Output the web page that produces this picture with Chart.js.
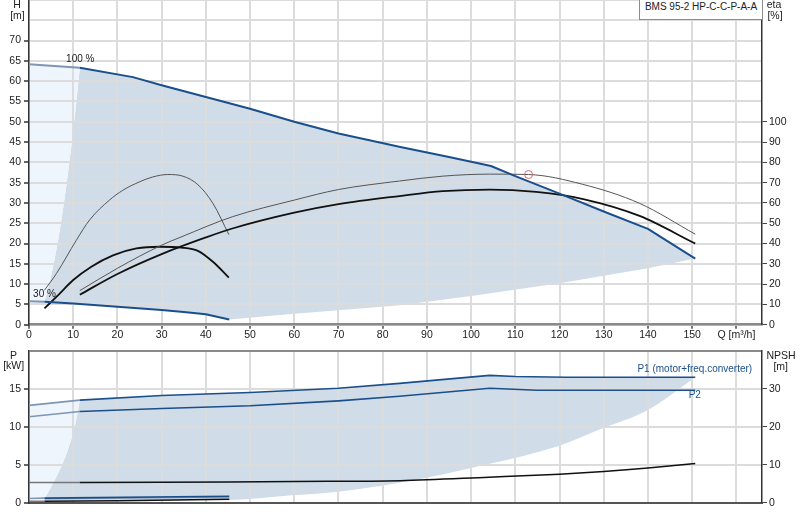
<!DOCTYPE html>
<html><head><meta charset="utf-8">
<script src="https://cdn.jsdelivr.net/npm/chart.js@4.4.1/dist/chart.umd.min.js"></script>
<style>
html,body{margin:0;padding:0;background:#fff;}
#wrap{position:relative;width:800px;height:520px;overflow:hidden;font-family:"Liberation Sans",Arial,sans-serif;font-size:10.5px;color:#222;}
canvas{position:absolute;left:0;}
.lbl{position:absolute;white-space:nowrap;line-height:12px;transform:translateX(-50%);}
#title{position:absolute;left:639px;top:-1px;width:122px;height:19px;border:1px solid #8c8c8c;background:#fff;text-align:center;line-height:14px;font-size:10px;white-space:nowrap;color:#222;}
</style></head><body>
<div id="wrap">
<canvas id="top" width="800" height="345" style="top:0"></canvas>
<canvas id="bot" width="800" height="175" style="top:345px"></canvas>
<div id="title">BMS 95-2 HP-C-C-P-A-A</div>
<div class="lbl" style="left:17px;top:-2px">H</div>
<div class="lbl" style="left:17.5px;top:9px">[m]</div>
<div class="lbl" style="left:774px;top:-2px">eta</div>
<div class="lbl" style="left:775px;top:9px">[%]</div>
<div class="lbl" style="left:13.5px;top:348.5px">P</div>
<div class="lbl" style="left:13.7px;top:358.5px">[kW]</div>
<div class="lbl" style="left:781px;top:349px">NPSH</div>
<div class="lbl" style="left:780.7px;top:359.5px">[m]</div>
</div>
<script>
// ---------- top chart data (Q in m3/h) ----------
const q100 = [0, 11.5, 23.5, 30, 40, 50, 60, 70, 84, 95, 104.5, 110, 120, 130, 140, 150.7];
const h100 = [64.2, 63.3, 61, 59, 56.1, 53.2, 50, 47.1, 43.8, 41.3, 39.1, 36.6, 32.3, 27.9, 23.6, 16.3];
const q30 = [0, 3.5, 10, 20, 30, 35, 40, 45.3];
const h30 = [5.8, 5.65, 5.2, 4.45, 3.6, 3.15, 2.55, 1.3];
const qMinFlow = [3.5, 4.5, 5.5, 6.5, 7.5, 8.5, 9.5, 10.5, 11.5];
const hMinFlow = [5.65, 9.6, 14.5, 20.2, 27, 34.6, 43.2, 52.8, 63.3];
const qMinHead = [45.3, 60, 84, 100, 120, 140, 150.7];
const hMinHead = [1.3, 2.7, 4.8, 7.1, 10.2, 13.9, 16.3];
const qEtaP = [11.5, 20, 30, 34.6, 46, 60, 70, 83.8, 93.6, 104.2, 113, 125.2, 138.1, 150.7];
const etaP = [16.8, 27.8, 39.2, 43.4, 53.2, 61.4, 66.6, 70.8, 73.2, 74.2, 74.0, 69.2, 59.8, 44.6];
const qEtaT = [11.5, 20, 30, 40, 46, 60, 70, 83.8, 93.6, 104.2, 114.7, 125.6, 138.1, 150.7];
const etaT = [14.8, 25, 34.8, 43, 47.4, 55.2, 59.4, 63.4, 65.8, 66.6, 65.4, 61.8, 53.6, 40];
const qEtaP30 = [3.5, 6.2, 10.7, 13.7, 18.2, 21.2, 25, 28, 31.4, 34.8, 38.2, 41.6, 45.2];
const etaP30 = [17, 25.2, 41.6, 51.6, 61.4, 66.2, 70.4, 72.8, 74, 73.2, 69, 59.8, 44.4];
const qEtaT30 = [3.5, 6.6, 10, 14.1, 19, 24.3, 29.6, 34.5, 38.2, 41.6, 45.2];
const etaT30 = [8, 14.6, 22, 28.6, 34.2, 37.6, 38.4, 38, 36.4, 31, 23.2];
const qDuty = [113];
const hDuty = [37.0];

// ---------- bottom chart data ----------
const qP1 = [0, 11.5, 30, 50, 70, 83.8, 104.2, 110, 121.6, 150.7];
const pP1 = [12.8, 13.5, 14.1, 14.5, 15.05, 15.7, 16.75, 16.6, 16.5, 16.5];
const qP2 = [0, 11.5, 30, 50, 70, 83.8, 104.2, 115, 150.7];
const pP2 = [11.3, 12.0, 12.4, 12.75, 13.4, 14.0, 15.05, 14.8, 14.8];
const qP1_30 = [0, 3.5, 45.3];
const pP1_30 = [0.55, 0.6, 0.85];
const qP2_30 = [3.5, 45.3];
const pP2_30 = [0.5, 0.72];
const qMinFlowP = [3.5, 4.3, 5.2, 6.3, 7.5, 8.6, 9.6, 10.4, 11.0, 11.5];
const pMinFlowP = [0.6, 1.3, 2.3, 3.5, 5.0, 6.6, 8.4, 10.2, 11.8, 13.5];
const qMinPow = [3.5, 45.3, 60, 70, 84, 104, 120, 130, 140, 150.7];
const pMinPow = [0.3, 0.35, 1.0, 1.45, 2.65, 5.1, 7.5, 9.85, 12.2, 16.5];
const qNpsh = [0, 11.5, 30, 45, 60, 84, 104, 120, 130, 140, 150.7];
const npsh = [5.3, 5.3, 5.35, 5.45, 5.6, 5.8, 6.7, 7.5, 8.2, 9.1, 10.3];
const qNpsh30 = [0, 3.5, 20, 45.3];
const npsh30 = [0.4, 0.4, 0.5, 0.9];

// axis ranges
const qMax = 165.8, hMax = 80, etaMax = 160, pMax = 20, npshMax = 40;

const BLUE = '#1b4f8c', EXT = '#7f95b3', DARKF = '#d0dce7', LIGHTF = '#eef5fc', GRID = '#dcdcdc';
const FONT = '"Liberation Sans", Arial, sans-serif';
Chart.defaults.font.family = FONT;
Chart.defaults.font.size = 10.5;
Chart.defaults.color = '#222';

const pts = (qs, vs) => qs.map((q, i) => ({x: q, y: vs[i]}));
const sel = (qs, vs, f) => pts(qs, vs).filter(p => f(p.x));
const fixW = w => s => { s.width = w; s.paddingTop = 0; s.paddingBottom = 0; };
const fixH = h => s => { s.height = h; s.paddingLeft = 0; s.paddingRight = 0; };
const base = {borderWidth: 2, pointRadius: 0, fill: false, tension: 0, order: 1, borderJoinStyle: 'round'};
const smooth = {cubicInterpolationMode: 'monotone'};
const region = (data, bg, target, extra) => Object.assign({}, base, {data, borderColor: 'rgba(0,0,0,0)', borderWidth: 1, backgroundColor: bg, fill: target === undefined || target === null ? false : target, order: 10}, extra || {});
const extSeg = lim => ({borderColor: c => c.p1.parsed.x <= lim ? EXT : undefined});

function labelPlugin(items) {
  return {id: 'lbls', afterDraw(chart) {
    const ctx = chart.ctx; ctx.save();
    ctx.font = '10px ' + FONT;
    ctx.textAlign = 'center'; ctx.textBaseline = 'middle';
    items.forEach(it => {
      ctx.fillStyle = it.color;
      ctx.fillText(it.text, chart.scales.x.getPixelForValue(it.x), chart.scales[it.axis].getPixelForValue(it.y));
    });
    ctx.restore();
  }};
}

// ---------- top chart ----------
new Chart(document.getElementById('top'), {
  type: 'line',
  data: {datasets: [
    region(sel(q100, h100, q => q <= 11.5), LIGHTF, 1),
    region(sel(q30, h30, q => q < 3.5).concat(pts(qMinFlow, hMinFlow)), LIGHTF),
    region(pts(qMinFlow, hMinFlow).concat(sel(q100, h100, q => q > 11.5)), DARKF, 3),
    region(sel(q30, h30, q => q >= 3.5).concat(sel(qMinHead, hMinHead, q => q > 45.3)), DARKF),
    Object.assign({}, base, {data: pts(q100, h100), borderColor: BLUE, segment: extSeg(11.5)}),
    Object.assign({}, base, {data: pts(q30, h30), borderColor: BLUE, segment: extSeg(3.5)}),
    Object.assign({}, base, smooth, {data: pts(qEtaP, etaP), yAxisID: 'yEta', borderColor: '#555', borderWidth: 1}),
    Object.assign({}, base, smooth, {data: pts(qEtaT, etaT), yAxisID: 'yEta', borderColor: '#111', borderWidth: 1.8}),
    Object.assign({}, base, smooth, {data: pts(qEtaP30, etaP30), yAxisID: 'yEta', borderColor: '#555', borderWidth: 1}),
    Object.assign({}, base, smooth, {data: pts(qEtaT30, etaT30), yAxisID: 'yEta', borderColor: '#111', borderWidth: 1.8}),
    Object.assign({}, base, {data: pts(qDuty, hDuty), showLine: false, pointRadius: 4, pointBorderColor: '#e06666', pointBackgroundColor: 'rgba(255,255,255,0)', pointBorderWidth: 1, order: 0})
  ]},
  options: {
    responsive: false, animation: false, events: [],
    layout: {padding: 0, autoPadding: false},
    plugins: {legend: {display: false}, tooltip: {enabled: false}, filler: {drawTime: 'beforeDraw'}},
    scales: {
      x: {type: 'linear', min: 0, max: qMax, afterFit: fixH(20.3),
        ticks: {stepSize: 10, includeBounds: false, padding: 0, maxRotation: 0, autoSkip: false,
          callback: v => v === 160 ? 'Q [m³/h]' : v},
        grid: {color: GRID, lineWidth: 2, tickLength: 4, tickColor: '#777'},
        border: {color: '#8a8a8a', width: 2.5}},
      y: {type: 'linear', position: 'left', min: 0, max: hMax, afterFit: fixW(29),
        ticks: {stepSize: 5, padding: 3, autoSkip: false, callback: v => v <= 70 ? v : ''},
        grid: {color: GRID, lineWidth: 2, tickLength: 5, tickColor: c => c.tick && c.tick.value <= 70 ? '#666' : 'rgba(0,0,0,0)'},
        border: {color: '#333', width: 1.5}},
      yEta: {type: 'linear', position: 'right', min: 0, max: etaMax, afterFit: fixW(38),
        ticks: {stepSize: 10, padding: 2, autoSkip: false, callback: v => v <= 100 ? v : ''},
        grid: {drawOnChartArea: false, tickLength: 5, lineWidth: 1, tickColor: c => c.tick && c.tick.value <= 100 ? '#444' : 'rgba(0,0,0,0)'},
        border: {color: '#333', width: 1.5}}
    }
  },
  plugins: [labelPlugin([
    {text: '100 %', x: 11.6, y: 65.5, axis: 'y', color: '#222'},
    {text: '30 %', x: 3.5, y: 7.4, axis: 'y', color: '#222'}
  ])]
});

// ---------- bottom chart ----------
new Chart(document.getElementById('bot'), {
  type: 'line',
  data: {datasets: [
    region(sel(qP1, pP1, q => q <= 11.5), LIGHTF, 1),
    region(sel(qP1_30, pP1_30, q => q < 3.5).concat(pts(qMinFlowP, pMinFlowP)), LIGHTF),
    region(pts(qMinFlowP, pMinFlowP).concat(sel(qP1, pP1, q => q > 11.5)), DARKF, 3),
    region(pts(qMinPow, pMinPow), DARKF, null, smooth),
    Object.assign({}, base, {data: pts(qP1, pP1), borderColor: BLUE, borderWidth: 1.6, segment: extSeg(11.5)}),
    Object.assign({}, base, {data: pts(qP2, pP2), borderColor: BLUE, borderWidth: 1.6, segment: extSeg(11.5)}),
    Object.assign({}, base, {data: pts(qP1_30, pP1_30), borderColor: BLUE, borderWidth: 1.6, segment: extSeg(3.5)}),
    Object.assign({}, base, {data: pts(qP2_30, pP2_30), borderColor: EXT, borderWidth: 1.2}),
    Object.assign({}, base, smooth, {data: pts(qNpsh, npsh), yAxisID: 'yN', borderColor: '#111', borderWidth: 1.5,
      segment: {borderColor: c => c.p1.parsed.x <= 11.5 ? '#777' : undefined}}),
    Object.assign({}, base, {data: pts(qNpsh30, npsh30), yAxisID: 'yN', borderColor: '#111', borderWidth: 1.5,
      segment: {borderColor: c => c.p1.parsed.x <= 3.5 ? '#777' : undefined}})
  ]},
  options: {
    responsive: false, animation: false, events: [],
    layout: {padding: {top: 5.7, left: 0, right: 0, bottom: 0}, autoPadding: false},
    plugins: {legend: {display: false}, tooltip: {enabled: false}, filler: {drawTime: 'beforeDraw'}},
    scales: {
      x: {type: 'linear', min: 0, max: qMax, afterFit: fixH(17.3),
        ticks: {display: false, stepSize: 10, includeBounds: false},
        grid: {color: GRID, lineWidth: 2, drawTicks: false},
        border: {color: '#555', width: 2}},
      y: {type: 'linear', position: 'left', min: 0, max: pMax, afterFit: fixW(29),
        ticks: {stepSize: 5, padding: 3, autoSkip: false, callback: v => v < 20 ? v : ''},
        grid: {color: c => c.tick && c.tick.value === 20 ? '#8a8a8a' : GRID,
               lineWidth: 2,
               tickLength: 5, tickColor: c => c.tick && c.tick.value < 20 ? '#666' : 'rgba(0,0,0,0)'},
        border: {color: '#333', width: 1.5}},
      yN: {type: 'linear', position: 'right', min: 0, max: npshMax, afterFit: fixW(38),
        ticks: {stepSize: 10, padding: 2, autoSkip: false, callback: v => v < 40 ? v : ''},
        grid: {drawOnChartArea: false, tickLength: 5, lineWidth: 1, tickColor: c => c.tick && c.tick.value < 40 ? '#444' : 'rgba(0,0,0,0)'},
        border: {color: '#333', width: 1.5}}
    }
  },
  plugins: [labelPlugin([
    {text: 'P1 (motor+freq.converter)', x: 150.6, y: 17.6, axis: 'y', color: BLUE},
    {text: 'P2', x: 150.6, y: 14.1, axis: 'y', color: BLUE}
  ])]
});
</script>
</body></html>
